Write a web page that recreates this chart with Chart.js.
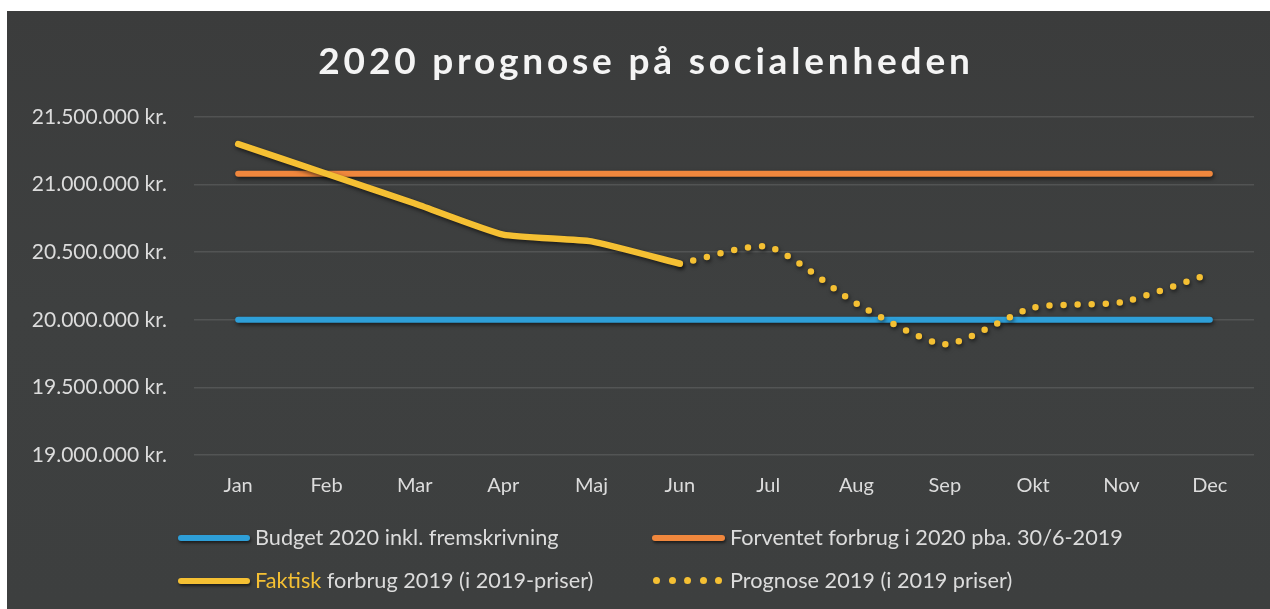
<!DOCTYPE html>
<html>
<head>
<meta charset="utf-8">
<script src="https://cdn.jsdelivr.net/npm/chart.js@4/dist/chart.umd.min.js"></script>
<style>
  html, body { margin: 0; padding: 0; background: #ffffff; }
  #wrap { position: relative; width: 1270px; height: 609px; overflow: hidden; }
  #bg { position: absolute; left: 7px; top: 11px; width: 1263px; height: 598px;
        background: linear-gradient(180deg, #3b3c3c 0%, #3e4040 50%, #3d3f3f 100%); }
  #c { position: absolute; left: 0; top: 0; }
  #title { position: absolute; left: 0; width: 1292px; top: 35px; text-align: center;
           font-family: Lato, "Open Sans", sans-serif; font-weight: bold; font-size: 37px;
           letter-spacing: 3.8px; color: #f4f4f4; line-height: 50px; }
  .lg { position: absolute; font-family: Lato, "Open Sans", sans-serif; font-size: 21.7px;
        color: #dcdcdc; line-height: 26px; white-space: nowrap; }
  .sw { position: absolute; height: 6px; border-radius: 3px; box-shadow: 1px 2px 3px rgba(0,0,0,0.55); }
  .dot { position: absolute; width: 7px; height: 7px; border-radius: 50%; background: #f5c033; }
</style>
</head>
<body>
<div id="wrap">
  <div id="bg"></div>
  <canvas id="c" width="1270" height="609"></canvas>
  <div id="title"></div>
  <div id="legend"></div>
</div>
<script>
// ---- data ----
const title = "2020 prognose på socialenheden";
const months = ["Jan","Feb","Mar","Apr","Maj","Jun","Jul","Aug","Sep","Okt","Nov","Dec"];
const budget2020 = [20000000,20000000,20000000,20000000,20000000,20000000,20000000,20000000,20000000,20000000,20000000,20000000];
const forventet2020 = [21080000,21080000,21080000,21080000,21080000,21080000,21080000,21080000,21080000,21080000,21080000,21080000];
const faktisk2019 = [21300000,21080000,20860000,20630000,20580000,20415000,null,null,null,null,null,null];
const prognose2019 = [null,null,null,null,null,20415000,20540000,20120000,19820000,20090000,20130000,20340000];
const seriesNames = ["Budget 2020 inkl. fremskrivning","Forventet forbrug i 2020 pba. 30/6-2019","Faktisk forbrug 2019 (i 2019-priser)","Prognose 2019 (i 2019 priser)"];
const yMin = 19000000, yMax = 21500000, yStep = 500000;

const BLUE = "#2e9fd8", ORANGE = "#f0873d", YELLOW = "#f5c033";

document.getElementById("title").textContent = title;

function fmtKr(v) {
  return String(Math.round(v)).replace(/\B(?=(\d{3})+(?!\d))/g, ".") + " kr.";
}

// ---- legend (HTML) ----
const legend = document.getElementById("legend");
function addSwatch(x, y, w, color) {
  const d = document.createElement("div");
  d.className = "sw"; d.style.left = x + "px"; d.style.top = (y - 3) + "px";
  d.style.width = w + "px"; d.style.background = color; legend.appendChild(d);
}
function addText(x, y, html) {
  const d = document.createElement("div");
  d.className = "lg"; d.style.left = x + "px"; d.style.top = (y - 14) + "px";
  d.innerHTML = html; legend.appendChild(d);
}
addSwatch(178, 538, 72, BLUE);
addText(255, 538, seriesNames[0]);
addSwatch(652, 538, 73, ORANGE);
addText(730, 538, seriesNames[1]);
addSwatch(178, 581, 72, YELLOW);
const fw = seriesNames[2].split(" ");
addText(255, 581, '<span style="color:' + YELLOW + '">' + fw[0] + '</span> ' + fw.slice(1).join(" "));
for (let i = 0; i < 5; i++) {
  const d = document.createElement("div");
  d.className = "dot"; d.style.left = (653 + i * 15.5) + "px"; d.style.top = (577) + "px";
  legend.appendChild(d);
}
addText(730, 581, seriesNames[3]);

// ---- chart ----
const shadowPlugin = {
  id: "lineShadow",
  beforeDatasetDraw(chart, args) {
    const ctx = chart.ctx;
    ctx.save();
    ctx.shadowColor = "rgba(0,0,0,0.6)";
    ctx.shadowBlur = 4;
    ctx.shadowOffsetX = 1;
    ctx.shadowOffsetY = 2;
  },
  afterDatasetDraw(chart) { chart.ctx.restore(); }
};

new Chart(document.getElementById("c"), {
  type: "line",
  data: {
    labels: months,
    datasets: [
      { label: seriesNames[0], data: budget2020, borderColor: BLUE, borderWidth: 6, pointRadius: 0, borderCapStyle: "round", order: 4 },
      { label: seriesNames[1], data: forventet2020, borderColor: ORANGE, borderWidth: 6, pointRadius: 0, borderCapStyle: "round", order: 3 },
      { label: seriesNames[2], data: faktisk2019, borderColor: YELLOW, borderWidth: 6.5, pointRadius: 0, borderCapStyle: "round", borderJoinStyle: "round", tension: 0.15, order: 1 },
      { label: seriesNames[3], data: prognose2019, borderColor: YELLOW, borderWidth: 6.5, pointRadius: 0, borderCapStyle: "round", borderDash: [0, 14], tension: 0.22, order: 2 }
    ]
  },
  options: {
    responsive: false,
    animation: false,
    layout: { padding: { top: 117, bottom: 84, left: 0, right: 16 } },
    plugins: { legend: { display: false }, title: { display: false }, tooltip: { enabled: false } },
    scales: {
      x: {
        offset: true,
        grid: { display: false },
        border: { display: false },
        ticks: { color: "#dcdcdc", font: { family: "Lato, 'Open Sans', sans-serif", size: 20 }, padding: 11, maxRotation: 0, autoSkip: false },
        afterFit(s) { s.height = 70; }
      },
      y: {
        min: yMin, max: yMax,
        grid: { color: "rgba(255,255,255,0.11)", lineWidth: 1.5, drawTicks: false },
        border: { display: false },
        ticks: { stepSize: yStep, color: "#dcdcdc", font: { family: "Lato, 'Open Sans', sans-serif", size: 21 }, padding: 27,
                 callback: (v) => fmtKr(v) },
        afterFit(s) { s.width = 194; }
      }
    }
  },
  plugins: [shadowPlugin]
});
</script>
</body>
</html>
